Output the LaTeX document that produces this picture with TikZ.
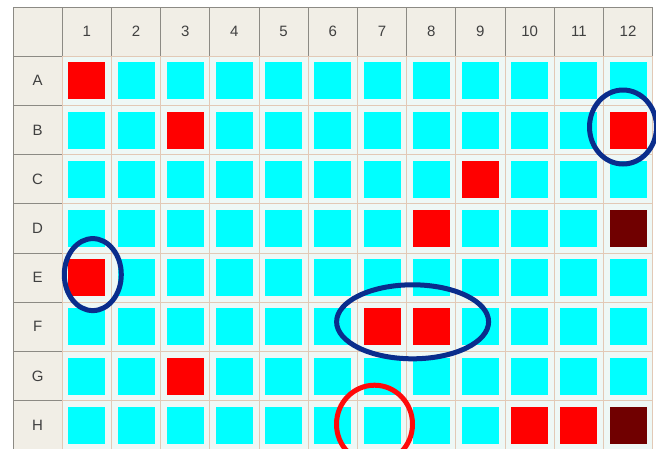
\documentclass[tikz,border=0pt]{standalone}
\usepackage{fontspec}
\setmainfont{Liberation Sans}
\usetikzlibrary{shapes.geometric,calc}
\definecolor{hdrfill}{HTML}{F1EEE6}
\definecolor{hdrline}{HTML}{8C8A84}
\definecolor{traybg}{HTML}{EEF8F6}
\definecolor{trayline}{HTML}{E2C9B6}
\definecolor{wellcyan}{HTML}{00FFFF}
\definecolor{hitred}{HTML}{FF0000}
\definecolor{darkhit}{HTML}{700000}
\definecolor{ringblue}{HTML}{0A2D8C}
\definecolor{ringred}{HTML}{FF0A0A}
\definecolor{labelgray}{HTML}{404040}
\tikzset{
  hdr/.style ={draw=hdrline,line width=1pt,fill=hdrfill,minimum size=49.2pt,
               inner sep=0pt,font=\fontsize{15}{15}\selectfont,text=labelgray},
  cell/.style={draw=trayline,line width=0.8pt,fill=traybg,minimum size=49.2pt,
               inner sep=0pt},
  well/.style={fill=wellcyan,minimum size=37pt,inner sep=0pt},
  hit/.style ={well,fill=hitred},
  dark/.style={well,fill=darkhit},
  ring/.style={ellipse,draw=ringblue,line width=5pt,inner sep=0pt},
  miss/.style={ring,draw=ringred}
}

\begin{document}
\begin{tikzpicture}[x=1pt,y=-1pt]
  \useasboundingbox (0,0) rectangle (656,448);
  \clip (0,0) rectangle (656,448);
  \fill[white] (0,0) rectangle (656,448);
  % header row and column
  \node[hdr] (corner) at (37.6,31.6) {};
  \foreach \c in {1,...,12}
    \node[hdr] (col\c) at ({37.6+\c*49.2},31.6) {\c};
  \foreach \r [count=\i] in {A,...,H}
    \node[hdr] (row\r) at (37.6,{31.6+\i*49.2}) {\r};
  % wells
  \foreach \r [count=\i] in {A,...,H}
    \foreach \c in {1,...,12} {
      \node[cell] (cell\r\c) at ({37.6+\c*49.2},{31.6+\i*49.2}) {};
      \node[well] (w\r\c) at (cell\r\c) {};
    }
  % hits
  \foreach \w in {A1,B3,B12,C9,D8,E1,F7,F8,G3,H10,H11}
    \node[hit] (hit\w) at (w\w) {};
  \foreach \w in {D12,H12}
    \node[dark] (hit\w) at (w\w) {};
  % marks
  \node[ring,minimum width=67pt,minimum height=74pt] (ringB) at ($(wB12)+(-5,-3)$) {};
  \node[ring,minimum width=57pt,minimum height=72pt] (ringE) at ($(wE1)+(6,-3)$) {};
  \node[ring,minimum width=152pt,minimum height=74pt] (ringF)
    at ($($(wF7)!0.5!(wF8)$)+(6,-5)$) {};
  \node[miss,minimum width=76pt,minimum height=78pt] (ringH) at ($(wH7)+(-7.5,-1)$) {};
\end{tikzpicture}
\end{document}
